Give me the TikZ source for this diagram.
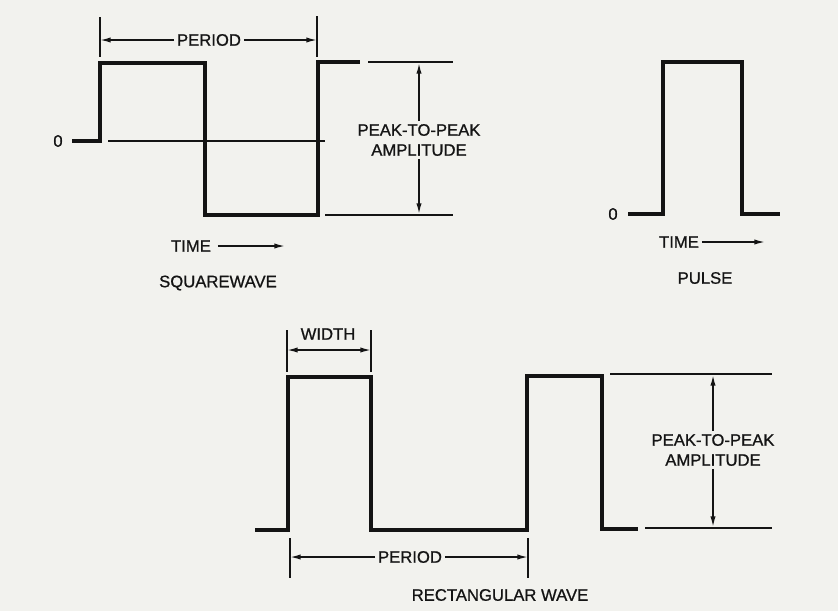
\documentclass[tikz,border=0pt]{standalone}
\usepackage{fontspec}
\setmainfont{Liberation Sans}
\newfontfamily\lblfont{Liberation Sans}[FakeBold=0.8]
\usetikzlibrary{arrows.meta, positioning}
\definecolor{ink}{HTML}{141414}
\definecolor{paper}{HTML}{F2F2EE}
\tikzset{
  wave/.style={draw=ink, line width=2.6pt, line join=miter},
  guide/.style={draw=ink, line width=1.15pt},
  tick/.style={draw=ink, line width=1.15pt},
  arrow/.style={-{Latex[length=8pt, width=4pt]}, line width=1.15pt, draw=ink},
  dimarrow/.style={{Latex[length=8pt, width=4pt]}-{Latex[length=8pt, width=4pt]}, line width=1.15pt, draw=ink},
  label/.style={text=ink, inner sep=2pt, font=\lblfont\fontsize{12.5}{15}\selectfont},
  title/.style={label, align=center}
}

\begin{document}
\begin{tikzpicture}[x=0.75pt, y=-0.75pt]

\fill[paper] (0,0) rectangle (838,611);
\useasboundingbox (0,0) rectangle (838,611);

% squarewave
\draw[wave] (72,141) -- (100,141) -- (100,63) -- (205,63) -- (205,215)
  -- (318,215) -- (318,62) -- (360,62);
\draw[guide] (108,141) -- (325,141);
\draw[guide] (325,215) -- (453,215);
\draw[guide] (368,62) -- (453,62);
\draw[tick] (100,17) -- (100,57);
\draw[tick] (317,16) -- (317,57);

\node[label] (zeroa) at (58,141) {0};

\coordinate (pera) at (100,40);
\coordinate (perb) at (317,40);
\node[label] (period) at (209,40) {PERIOD};
\draw[arrow] (period) -- (pera);
\draw[arrow] (period) -- (perb);

\coordinate (ppa) at (419,63);
\coordinate (ppb) at (419,214);
\node[title] (ppamp) at (419,140) {PEAK-TO-PEAK\\AMPLITUDE};
\draw[arrow] (ppamp) -- (ppa);
\draw[arrow] (ppamp) -- (ppb);

\node[label] (timea) at (191,246) {TIME};
\coordinate (timeaend) at (285,246);
\draw[arrow] ([xshift=3pt]timea.east) -- (timeaend);

\node[label] (square) at (218,283) {SQUAREWAVE};

% pulse
\draw[wave] (628,214) -- (663,214) -- (663,62) -- (742,62) -- (742,214) -- (780,214);
\node[label] (zerob) at (613,214) {0};

\node[label] (timeb) at (679,242) {TIME};
\coordinate (timebend) at (765,242);
\draw[arrow] (timeb.east) -- (timebend);

\node[label] (pulse) at (705,278) {PULSE};

% rectangular wave
\draw[wave] (255,530) -- (288,530) -- (288,377) -- (371,377) -- (371,530)
  -- (527,530) -- (527,376) -- (602,376) -- (602,529) -- (638,529);
\draw[guide] (610,374) -- (772,374);
\draw[guide] (645,528) -- (772,528);

\draw[tick] (287,330) -- (287,372);
\draw[tick] (371,330) -- (371,372);
\coordinate (wida) at (287,350);
\coordinate (widb) at (371,350);
\draw[dimarrow] (wida) -- (widb);
\node[label] (width) at (328,334) {WIDTH};

\draw[tick] (290,538) -- (290,578);
\draw[tick] (528,538) -- (528,578);
\coordinate (perc) at (290,557);
\coordinate (perd) at (528,557);
\node[label] (periodb) at (410,557) {PERIOD};
\draw[arrow] (periodb) -- (perc);
\draw[arrow] (periodb) -- (perd);

\coordinate (ppc) at (713,375);
\coordinate (ppd) at (713,527);
\node[title] (ppampb) at (713,450) {PEAK-TO-PEAK\\AMPLITUDE};
\draw[arrow] (ppampb) -- (ppc);
\draw[arrow] (ppampb) -- (ppd);

\node[label] (rect) at (500,595) {RECTANGULAR WAVE};

\end{tikzpicture}
\end{document}
